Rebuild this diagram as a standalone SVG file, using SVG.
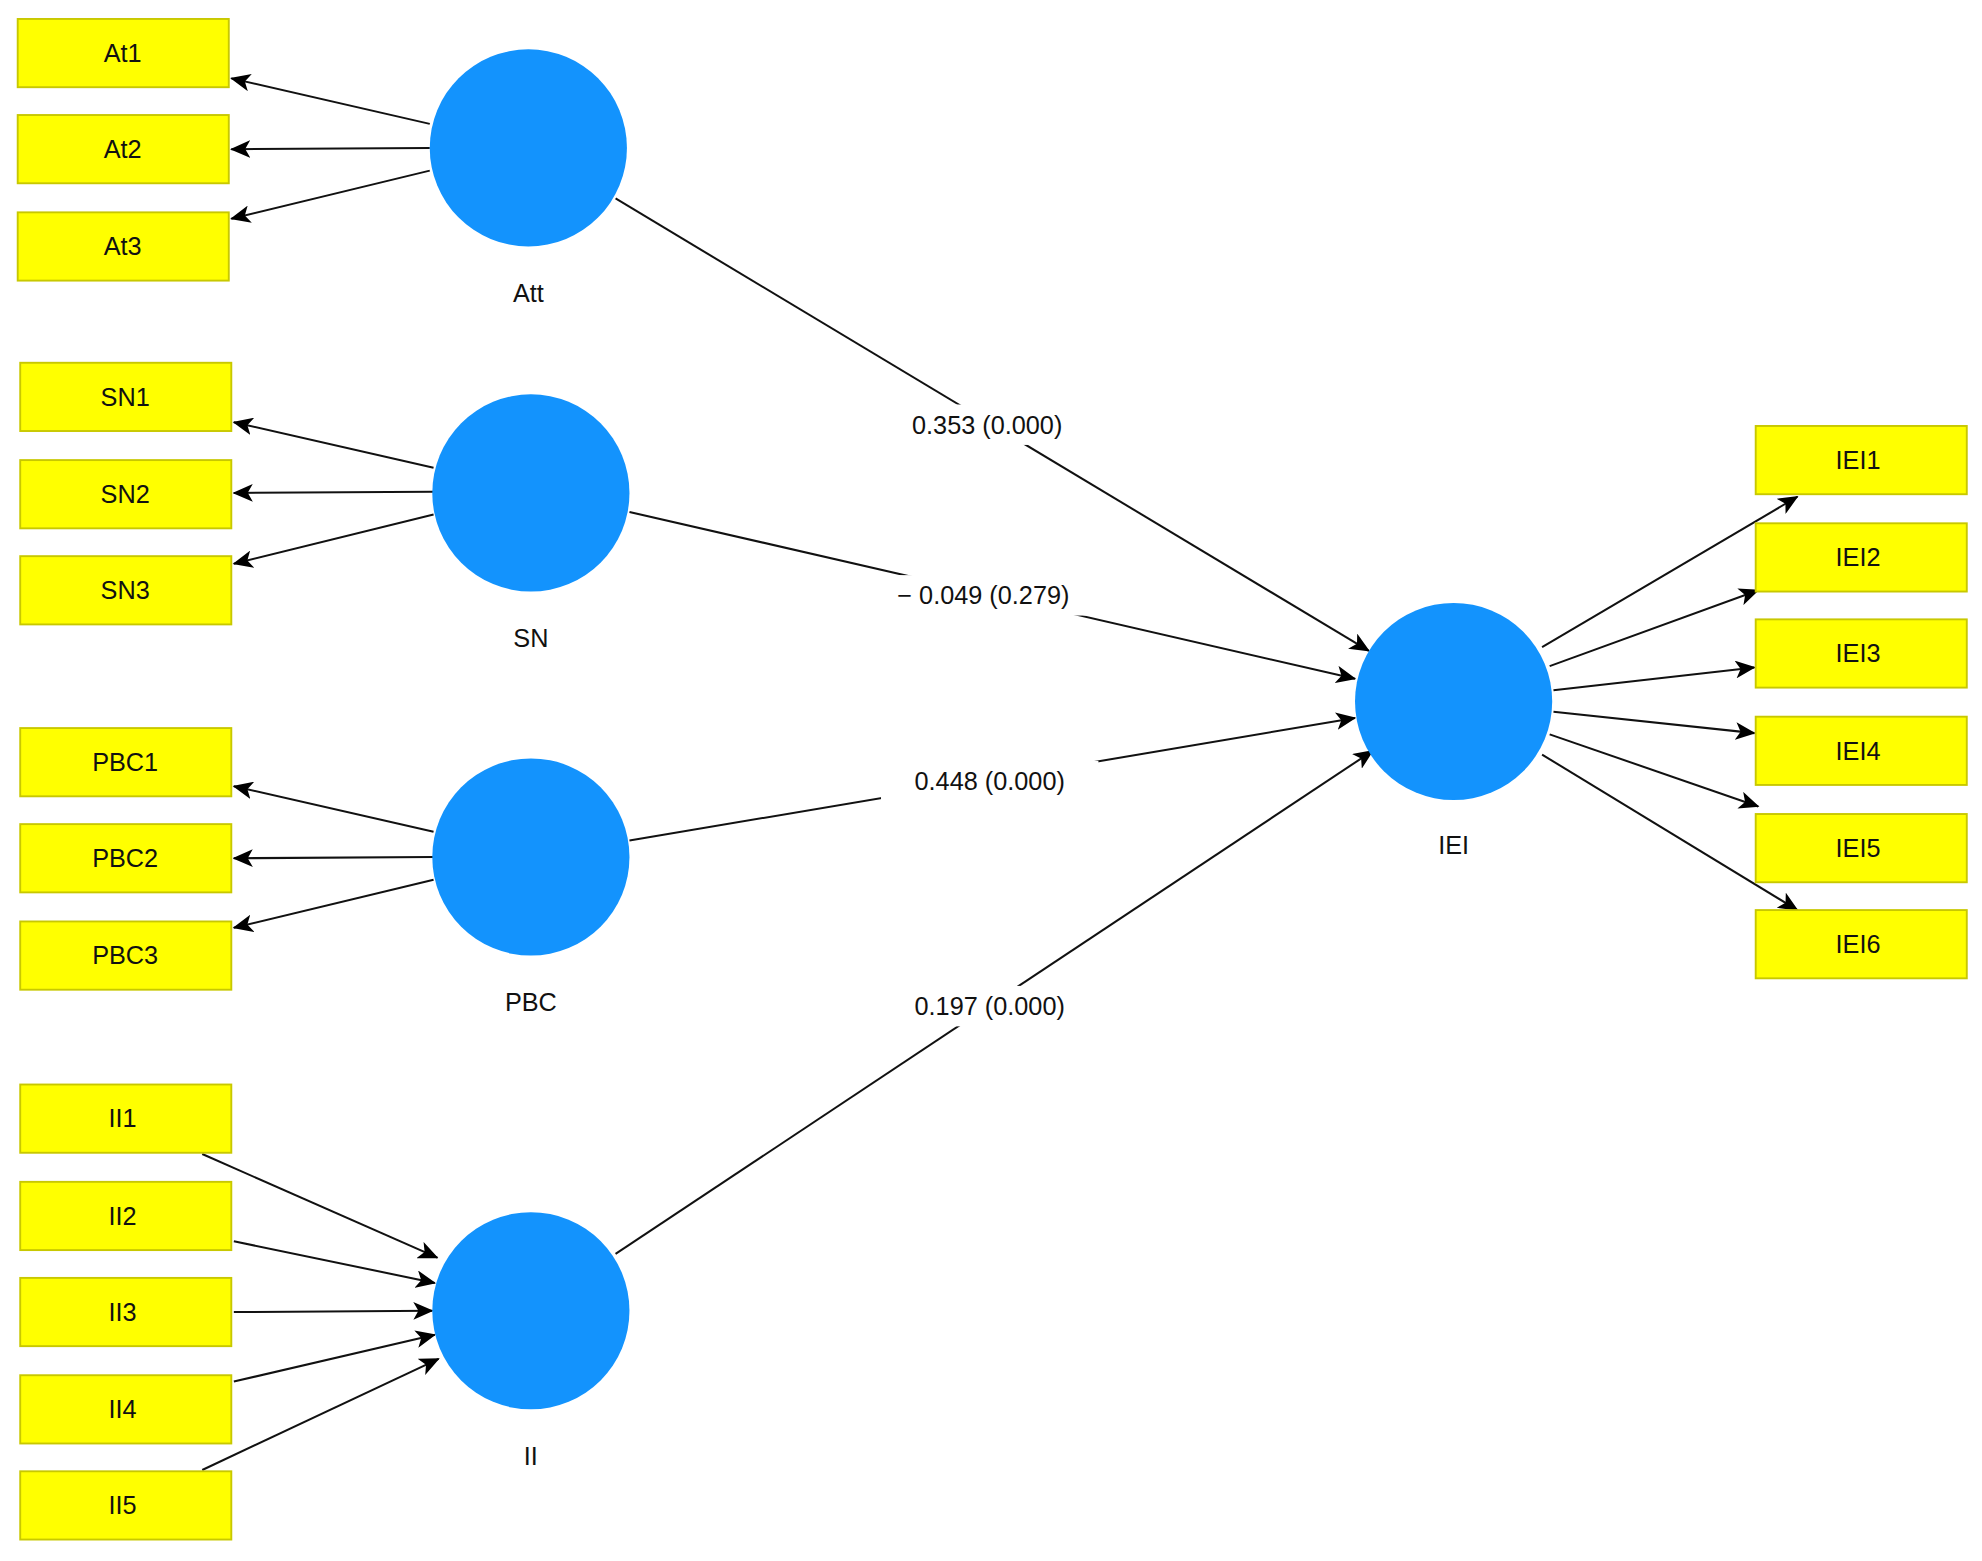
<svg xmlns="http://www.w3.org/2000/svg" width="1982" height="1561" viewBox="0 0 1982 1561">
<defs>
<marker id="ah" markerUnits="userSpaceOnUse" markerWidth="16" markerHeight="14" refX="15" refY="7" orient="auto"><path d="M0,0 L16,7 L0,14 L4,7 Z" fill="#000"/></marker>
<style>
.box{fill:#ffff00;stroke:#c8c800;stroke-width:1.5}
.c{fill:#1393fd}
.t{font-family:"Liberation Sans",Arial,sans-serif;font-size:20px;fill:#111;text-anchor:middle}
.lbl{font-family:"Liberation Sans",Arial,sans-serif;font-size:20px;fill:#111;text-anchor:middle}
.ln{stroke:#111;stroke-width:1.6;fill:none;marker-end:url(#ah)}
</style>
</defs>
<rect width="1982" height="1561" fill="#fff"/>
<g transform="scale(1.264)">
<g id="connectors">
<line class="ln" x1="340" y1="98" x2="183" y2="62"/>
<line class="ln" x1="340" y1="117" x2="183" y2="118"/>
<line class="ln" x1="340" y1="135" x2="183" y2="173"/>
<line class="ln" x1="343" y1="370" x2="185" y2="334"/>
<line class="ln" x1="343" y1="389" x2="185" y2="390"/>
<line class="ln" x1="343" y1="407" x2="185" y2="446"/>
<line class="ln" x1="343" y1="658" x2="185" y2="622"/>
<line class="ln" x1="343" y1="678" x2="185" y2="679"/>
<line class="ln" x1="343" y1="696" x2="185" y2="734"/>
<line class="ln" x1="160" y1="913" x2="346" y2="995"/>
<line class="ln" x1="185" y1="982" x2="344" y2="1015"/>
<line class="ln" x1="185" y1="1038" x2="342" y2="1037"/>
<line class="ln" x1="185" y1="1093" x2="344" y2="1056"/>
<line class="ln" x1="160" y1="1163" x2="347" y2="1075"/>
<line class="ln" x1="487" y1="157" x2="1083" y2="515"/>
<line class="ln" x1="498" y1="405" x2="1072" y2="537"/>
<line class="ln" x1="498" y1="665" x2="1072" y2="568"/>
<line class="ln" x1="487" y1="992" x2="1086" y2="594"/>
<line class="ln" x1="1220" y1="512" x2="1422" y2="393"/>
<line class="ln" x1="1226" y1="527" x2="1391" y2="467"/>
<line class="ln" x1="1229" y1="546" x2="1388" y2="528"/>
<line class="ln" x1="1229" y1="563" x2="1388" y2="580"/>
<line class="ln" x1="1226" y1="581" x2="1391" y2="638"/>
<line class="ln" x1="1220" y1="597" x2="1422" y2="720"/>
<g id="path-labels">
<rect x="695" y="320" width="172" height="32" fill="#fff"/><text class="lbl" x="781" y="343">0.353 (0.000)</text>
<rect x="684" y="455" width="190" height="32" fill="#fff"/><text class="lbl" x="778" y="478">− 0.049 (0.279)</text>
<rect x="697" y="602" width="172" height="32" fill="#fff"/><text class="lbl" x="783" y="625">0.448 (0.000)</text>
<rect x="697" y="780" width="172" height="32" fill="#fff"/><text class="lbl" x="783" y="803">0.197 (0.000)</text>
</g>
</g>
<g id="Att"><circle class="c" cx="418" cy="117" r="78"/><text class="t" x="418" y="239">Att</text></g>
<g id="SN"><circle class="c" cx="420" cy="390" r="78"/><text class="t" x="420" y="512">SN</text></g>
<g id="PBC"><circle class="c" cx="420" cy="678" r="78"/><text class="t" x="420" y="800">PBC</text></g>
<g id="II"><circle class="c" cx="420" cy="1037" r="78"/><text class="t" x="420" y="1159">II</text></g>
<g id="IEI"><circle class="c" cx="1150" cy="555" r="78"/><text class="t" x="1150" y="676">IEI</text></g>
<g id="At1"><rect class="box" x="14" y="15" width="167" height="54"/><text class="t" x="97" y="49">At1</text></g>
<g id="At2"><rect class="box" x="14" y="91" width="167" height="54"/><text class="t" x="97" y="125">At2</text></g>
<g id="At3"><rect class="box" x="14" y="168" width="167" height="54"/><text class="t" x="97" y="202">At3</text></g>
<g id="SN1"><rect class="box" x="16" y="287" width="167" height="54"/><text class="t" x="99" y="321">SN1</text></g>
<g id="SN2"><rect class="box" x="16" y="364" width="167" height="54"/><text class="t" x="99" y="398">SN2</text></g>
<g id="SN3"><rect class="box" x="16" y="440" width="167" height="54"/><text class="t" x="99" y="474">SN3</text></g>
<g id="PBC1"><rect class="box" x="16" y="576" width="167" height="54"/><text class="t" x="99" y="610">PBC1</text></g>
<g id="PBC2"><rect class="box" x="16" y="652" width="167" height="54"/><text class="t" x="99" y="686">PBC2</text></g>
<g id="PBC3"><rect class="box" x="16" y="729" width="167" height="54"/><text class="t" x="99" y="763">PBC3</text></g>
<g id="II1"><rect class="box" x="16" y="858" width="167" height="54"/><text class="t" x="97" y="892">II1</text></g>
<g id="II2"><rect class="box" x="16" y="935" width="167" height="54"/><text class="t" x="97" y="969">II2</text></g>
<g id="II3"><rect class="box" x="16" y="1011" width="167" height="54"/><text class="t" x="97" y="1045">II3</text></g>
<g id="II4"><rect class="box" x="16" y="1088" width="167" height="54"/><text class="t" x="97" y="1122">II4</text></g>
<g id="II5"><rect class="box" x="16" y="1164" width="167" height="54"/><text class="t" x="97" y="1198">II5</text></g>
<g id="IEI1"><rect class="box" x="1389" y="337" width="167" height="54"/><text class="t" x="1470" y="371">IEI1</text></g>
<g id="IEI2"><rect class="box" x="1389" y="414" width="167" height="54"/><text class="t" x="1470" y="448">IEI2</text></g>
<g id="IEI3"><rect class="box" x="1389" y="490" width="167" height="54"/><text class="t" x="1470" y="524">IEI3</text></g>
<g id="IEI4"><rect class="box" x="1389" y="567" width="167" height="54"/><text class="t" x="1470" y="601">IEI4</text></g>
<g id="IEI5"><rect class="box" x="1389" y="644" width="167" height="54"/><text class="t" x="1470" y="678">IEI5</text></g>
<g id="IEI6"><rect class="box" x="1389" y="720" width="167" height="54"/><text class="t" x="1470" y="754">IEI6</text></g>
</g>
</svg>
